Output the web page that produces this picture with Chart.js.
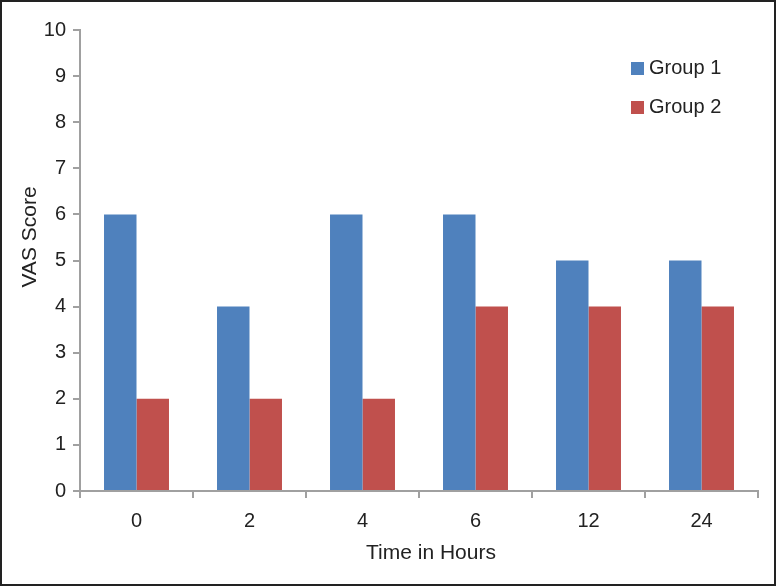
<!DOCTYPE html>
<html>
<head>
<meta charset="utf-8">
<script src="https://cdn.jsdelivr.net/npm/chart.js@4/dist/chart.umd.min.js"></script>
<style>
  html, body { margin: 0; padding: 0; background: #fff; }
  #frame { width: 776px; height: 586px; box-sizing: border-box; border: 2px solid #222; }
  canvas { display: block; }
</style>
</head>
<body>
<div id="frame"><canvas id="vasChart" width="772" height="582"></canvas></div>
<script>
const hours = ['0', '2', '4', '6', '12', '24'];
const group1 = [6, 4, 6, 6, 5, 5];
const group2 = [2, 2, 2, 4, 4, 4];
const yTicks = [0, 1, 2, 3, 4, 5, 6, 7, 8, 9, 10];
const xTitle = 'Time in Hours';
const yTitle = 'VAS Score';

const axisGray = '#A0A0A0';
const textColor = '#222';
const fontFamily = 'Liberation Sans, Arial, sans-serif';
const font20 = { family: fontFamily, size: 20 };

// legend inside the plot (top right) and the two axis titles
const labelsPlugin = {
    id: 'labelsPlugin',
    afterDraw(chart) {
        const ctx = chart.ctx;
        ctx.save();
        ctx.fillStyle = textColor;
        ctx.textBaseline = 'middle';

        ctx.font = '20px ' + fontFamily;
        chart.data.datasets.forEach((ds, i) => {
            const y = 66 + i * 39;
            ctx.fillStyle = ds.backgroundColor;
            ctx.fillRect(629, y - 6, 13, 13);
            ctx.fillStyle = textColor;
            ctx.fillText(ds.label, 647, y);
        });

        ctx.font = '21px ' + fontFamily;
        ctx.textAlign = 'center';
        ctx.fillText(xTitle, 429, 551);

        ctx.translate(28, 235);
        ctx.rotate(-Math.PI / 2);
        ctx.fillText(yTitle, 0, 0);
        ctx.restore();
    }
};

const ctx = document.getElementById('vasChart').getContext('2d');
new Chart(ctx, {
    type: 'bar',
    data: {
        labels: hours,
        datasets: [
            { label: 'Group 1', data: group1, backgroundColor: '#4F81BD',
              barPercentage: 1, categoryPercentage: 0.575 },
            { label: 'Group 2', data: group2, backgroundColor: '#C0504D',
              barPercentage: 1, categoryPercentage: 0.575 }
        ]
    },
    options: {
        responsive: false,
        animation: false,
        layout: { padding: { left: 0, right: 16, top: 28, bottom: 0 } },
        plugins: {
            legend: { display: false },
            tooltip: { enabled: false }
        },
        scales: {
            x: {
                grid: { drawOnChartArea: false, offset: true, color: axisGray, lineWidth: 2, tickLength: 7 },
                border: { color: axisGray, width: 2 },
                ticks: { color: textColor, font: font20, padding: 11 },
                afterFit(scale) { scale.height = 93; }
            },
            y: {
                min: 0,
                max: 10,
                afterBuildTicks(scale) { scale.ticks = yTicks.map(v => ({ value: v })); },
                grid: { drawOnChartArea: false, color: axisGray, lineWidth: 2, tickLength: 7 },
                border: { color: axisGray, width: 2 },
                ticks: { color: textColor, font: font20, padding: 7 },
                afterFit(scale) { scale.width = 78; }
            }
        }
    },
    plugins: [labelsPlugin]
});
</script>
</body>
</html>
